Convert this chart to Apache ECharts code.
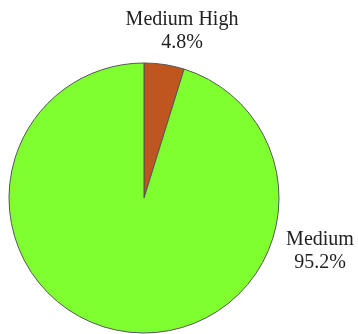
<!DOCTYPE html>
<html>
<head>
<meta charset="utf-8">
<script src="https://cdn.jsdelivr.net/npm/echarts@6/dist/echarts.min.js"></script>
<style>
    html, body { margin: 0; padding: 0; background: #fff; }
    #main_pie { width: 358px; height: 334px; }
</style>
</head>
<body>
<div id="main_pie"></div>
<script>
// 数据
var categories = ['Medium High', 'Medium'];
var shares = [4.8, 95.2];
var sliceColors = ['#c0561f', '#80ff30'];

// 标签位置 (按 dataIndex)
var labelSpots = [[182, 31], [320, 251]];

function chartPieShow() {
    var myChartPie = echarts.init(document.getElementById('main_pie'));
    var pieData = [];
    for (var i = 0; i < categories.length; i++) {
        pieData.push({
            value: shares[i],
            name: categories[i],
            itemStyle: {color: sliceColors[i]}
        });
    }
    var options = {
        animation: false,
        series: [
            {
                type: 'pie',
                center: [144, 198],
                radius: 135,
                startAngle: 90,
                clockwise: true,
                itemStyle: {
                    borderColor: '#555',
                    borderWidth: 1
                },
                label: {
                    show: true,
                    position: 'outside',
                    fontFamily: 'Liberation Serif',
                    fontSize: 20,
                    lineHeight: 23,
                    color: '#222',
                    align: 'center',
                    formatter: function (p) {
                        return p.name + '\n' + p.value.toFixed(1) + '%';
                    }
                },
                labelLine: {show: false},
                labelLayout: function (params) {
                    var spot = labelSpots[params.dataIndex];
                    return {
                        x: spot[0],
                        y: spot[1],
                        align: 'center',
                        verticalAlign: 'middle'
                    };
                },
                emphasis: {disabled: true},
                data: pieData
            }
        ]
    };
    myChartPie.setOption(options);
}

chartPieShow();
</script>
</body>
</html>
